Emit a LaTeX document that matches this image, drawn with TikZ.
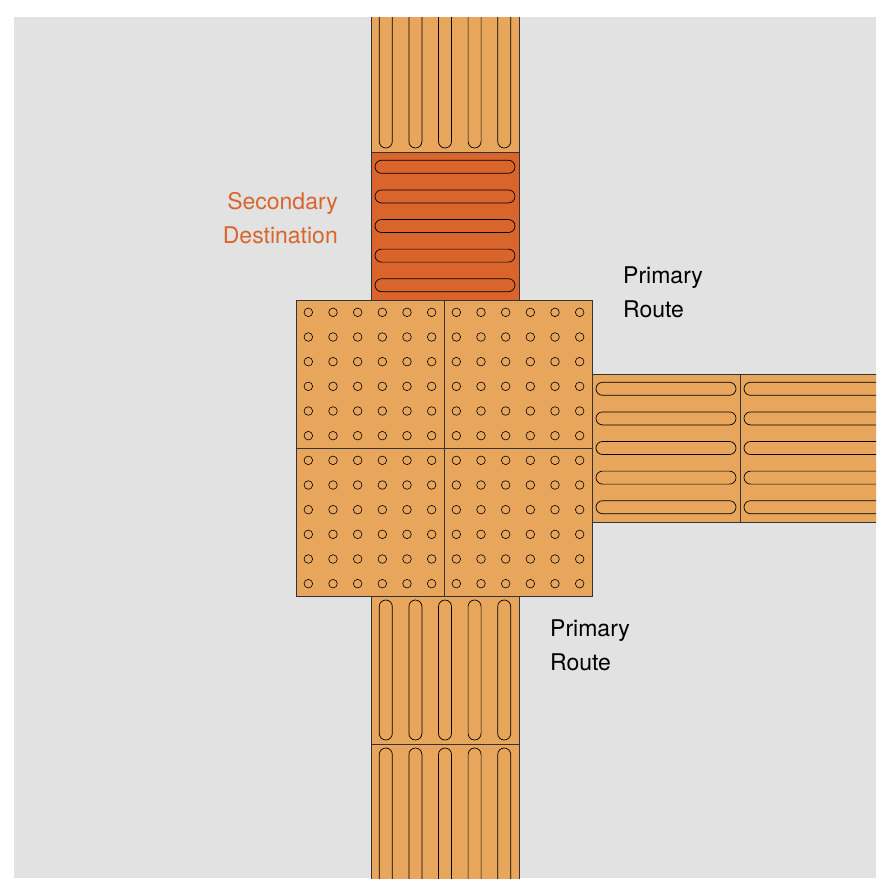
\documentclass[tikz,border=0pt]{standalone}
\usepackage{fontspec}
\setmainfont{TeX Gyre Heros}
\definecolor{bg}{HTML}{E2E2E2}
\definecolor{tile}{HTML}{E8A65C}
\definecolor{red}{HTML}{D9652D}
\begin{document}
\begin{tikzpicture}[x=1pt,y=-1pt,
  tilebox/.style={draw=black!80,line width=0.8pt},
  barbox/.style={draw=black,line width=0.7pt,rounded corners=6.5pt},
  dotc/.style={draw=black,line width=0.6pt},
  lbl/.style={font=\fontsize{23}{34}\selectfont,align=left,inner sep=0pt}]
\useasboundingbox (0,0) rectangle (890,892);
\fill[bg] (14,17) rectangle (876,878);
\begin{scope}
\clip (14,17) rectangle (876,878);
% vertical-bar tiles (top and bottom)
\foreach \ty in {4,596,744}{
  \fill[tile,tilebox] (371,\ty) rectangle ++(148,148);
  \foreach \k in {0,...,4}
    \draw[barbox] ({371+14.8+29.6*\k-6.5},\ty+4) rectangle ++(13,140);
}
% red tile
\fill[red,tilebox] (371,152) rectangle ++(148,148);
\foreach \k in {0,...,4}
  \draw[barbox] (375,{152+14.8+29.6*\k-6.5}) rectangle ++(140,13);
% right strip
\foreach \tx in {592,740}{
  \fill[tile,tilebox] (\tx,374) rectangle ++(148,148);
  \foreach \k in {0,...,4}
    \draw[barbox] (\tx+4,{374+14.8+29.6*\k-6.5}) rectangle ++(140,13);
}
% dot tiles
\foreach \tx in {296,444}{\foreach \ty in {300,448}{
  \fill[tile,tilebox] (\tx,\ty) rectangle ++(148,148);
  \foreach \i in {0,...,5}{\foreach \j in {0,...,5}
    \draw[dotc] ({\tx+(2*\i+1)*148/12},{\ty+(2*\j+1)*148/12}) circle (4.3);}
}}
\end{scope}
\node[lbl,align=right,anchor=north east,text=red] (sd) at (338,192) {Secondary\\Destination};
\node[lbl,anchor=north west] (pr1) at (623,267) {Primary\\Route};
\node[lbl,anchor=north west] (pr2) at (550,620) {Primary\\Route};
\end{tikzpicture}
\end{document}
